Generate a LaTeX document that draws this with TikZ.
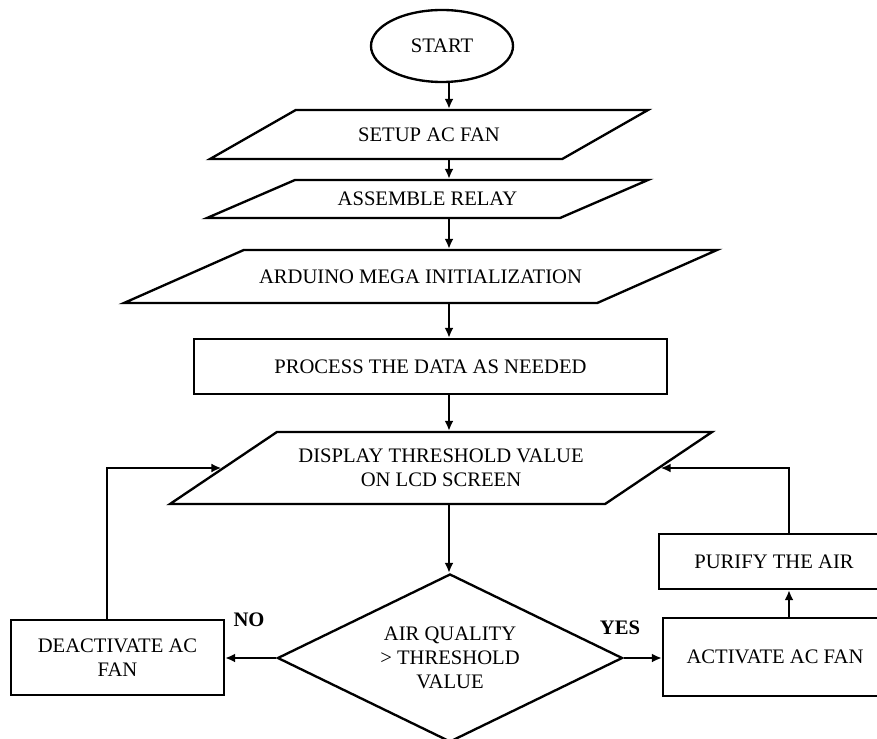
\documentclass[tikz,border=0pt]{standalone}
\usepackage{fontspec}
\setmainfont{Liberation Serif}
\usetikzlibrary{shapes.geometric,arrows.meta}

\begin{document}
\begin{tikzpicture}[x=0.03cm,y=-0.03cm,
  txt/.style={font=\fontsize{17.6}{20.5}\selectfont,align=center},
  box/.style={draw,txt,line width=2pt,rectangle,inner sep=2pt},
  para/.style 2 args={box,trapezium,trapezium stretches body,
    trapezium left angle=#1,trapezium right angle=#2},
  lbl/.style={font=\bfseries\fontsize{17.6}{20.5}\selectfont,inner sep=0pt},
  arr/.style={line width=2pt,-{Latex[length=3mm,width=2.7mm]}}]
\useasboundingbox (0,0) rectangle (877,739);

\coordinate (col) at (449,0);
\coordinate (lcol) at (107,0);
\coordinate (rcol) at (789,0);

\node[draw,ellipse,txt,line width=2pt,minimum width=4.26cm,minimum height=2.16cm] (start) at (442,46) {START};
\node[para={12.2}{167.8},minimum width=13.14cm,minimum height=1.47cm] (setup) at (429,134.5) {SETUP AC FAN};
\node[para={11.9}{168.1},minimum width=13.23cm,minimum height=1.14cm] (assemble) at (427.5,199) {ASSEMBLE RELAY};
\node[para={8.8}{171.2},minimum width=17.79cm,minimum height=1.59cm] (arduino) at (420.5,276.5) {ARDUINO MEGA INITIALIZATION};
\node[box,minimum width=14.19cm,minimum height=1.65cm] (process) at (430.5,366.5) {PROCESS THE DATA AS NEEDED};
\node[para={21.7}{158.3},minimum width=16.26cm,minimum height=2.16cm] (display) at (441,468) {DISPLAY THRESHOLD VALUE\\ON LCD SCREEN};
\node[draw,diamond,txt,line width=2pt,shape aspect=2.05,inner sep=0pt,minimum width=10.35cm,minimum height=5.04cm] (check) at (450,658) {AIR QUALITY\\> THRESHOLD\\VALUE};
\node[box,minimum width=6.39cm,minimum height=2.25cm] (deact) at (117.5,657.5) {DEACTIVATE AC\\FAN};
\node[box,minimum width=6.72cm,minimum height=2.34cm] (act) at (775,657) {ACTIVATE AC FAN};
\node[box,minimum width=6.9cm,minimum height=1.65cm] (purify) at (774,561.5) {PURIFY THE AIR};
\node[lbl] (no) at (249,620) {NO};
\node[lbl] (yes) at (620,628) {YES};

% main column
\foreach \a/\b in {start/setup,setup/assemble,assemble/arduino,arduino/process,process/display,display/check}
  \draw[arr] (\a.south -| col) -- (\b.north -| col);

% decision
\draw[arr] (check.west) -- (check.west -| deact.east);
\draw[arr] (check.east) -- (check.east -| act.west);
\draw[arr] (act.north -| rcol) -- (purify.south -| rcol);

% loops back
\draw[arr] (deact.north -| lcol) |- (display);
\draw[arr] (purify.north -| rcol) |- (display);
\end{tikzpicture}
\end{document}
